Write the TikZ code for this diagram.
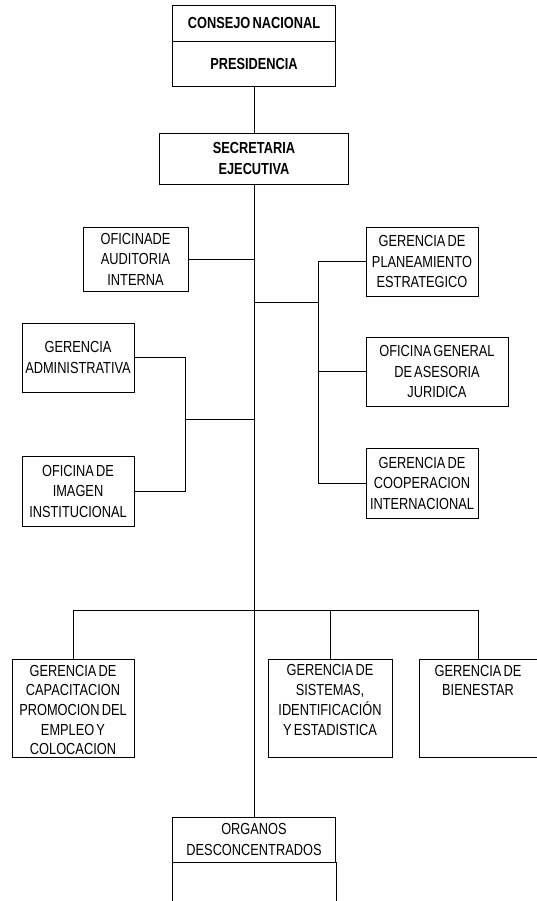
\documentclass[tikz,border=0pt]{standalone}
\usepackage{fontspec}
\setmainfont[FakeStretch=0.8,WordSpace=0.6]{Liberation Sans}
\begin{document}
\begin{tikzpicture}[x=1pt,y=-1pt,
  box/.style={draw, line width=0.8pt, inner sep=0pt, align=center,
    font=\fontsize{16}{20.5}\selectfont},
  lbl/.style={inner sep=0pt, align=center, font=\fontsize{16}{19.7}\selectfont},
  every path/.style={line width=0.8pt}]
\useasboundingbox (0,0) rectangle (537,901);
% top
\node[box, minimum width=163pt, minimum height=36pt] (cn) at (254,23) {\bfseries CONSEJO NACIONAL};
\node[box, minimum width=163pt, minimum height=45pt] (pres) at (254,63.5) {\bfseries PRESIDENCIA};
\node[box, minimum width=189pt, minimum height=51pt] (sec) at (254,158.5) {\bfseries SECRETARIA\\\bfseries EJECUTIVA};
% middle
\node[box, minimum width=105pt, minimum height=64pt] (aud) at (135.5,259) {OFICINADE\\AUDITORIA\\INTERNA};
\node[box, minimum width=112pt, minimum height=69pt] (plan) at (422,261.5) {GERENCIA DE\\PLANEAMIENTO\\ESTRATEGICO};
\node[box, minimum width=142pt, minimum height=69pt] (jur) at (437,371.5) {OFICINA GENERAL\\DE ASESORIA\\JURIDICA};
\node[box, minimum width=112pt, minimum height=70pt] (coop) at (422,483) {GERENCIA DE\\COOPERACION\\INTERNACIONAL};
\node[box, minimum width=112pt, minimum height=69pt] (adm) at (78,357.5) {GERENCIA\\ADMINISTRATIVA};
\node[box, minimum width=112pt, minimum height=70pt] (img) at (78,491) {OFICINA DE\\IMAGEN\\INSTITUCIONAL};
% bottom
\node[box, minimum width=122pt, minimum height=98pt] (cap) at (73,708) {};
\node[lbl] (capt) at (73,710) {GERENCIA DE\\CAPACITACION\\PROMOCION DEL\\EMPLEO Y\\COLOCACION};
\node[box, minimum width=124pt, minimum height=98pt] (sis) at (330,708) {};
\node[lbl] (sist) at (330,700) {GERENCIA DE\\SISTEMAS,\\IDENTIFICACIÓN\\Y ESTADISTICA};
\node[box, minimum width=118pt, minimum height=98pt] (bien) at (478,708) {};
\node[lbl] (bient) at (478,680.5) {GERENCIA DE\\BIENESTAR};
\node[box, minimum width=163pt, minimum height=45pt] (org) at (254,839.5) {ORGANOS\\DESCONCENTRADOS};
\draw (org.south west) -- ++(0,40);
\draw (org.south east) -- ++(0,40);
% connectors
\coordinate (rj) at (318,302);
\coordinate (lj) at (185,419);
\coordinate (bj) at (254,610);
\draw (pres.south) -- (sec.north);
\draw (sec.south) -- (org.north);
\draw (aud.east) -- (aud.east -| sec.south);
\draw (rj -| sec.south) -- (rj);
\draw (plan.west) -| (rj);
\draw (coop.west) -| (rj);
\draw (jur.west) -- (jur.west -| rj);
\draw (lj -| sec.south) -- (lj);
\draw (adm.east) -| (lj);
\draw (img.east) -| (lj);
\draw (cap.north) |- (bj);
\draw (bien.north) |- (bj);
\draw (sis.north) -- (sis.north |- bj);
\end{tikzpicture}
\end{document}
